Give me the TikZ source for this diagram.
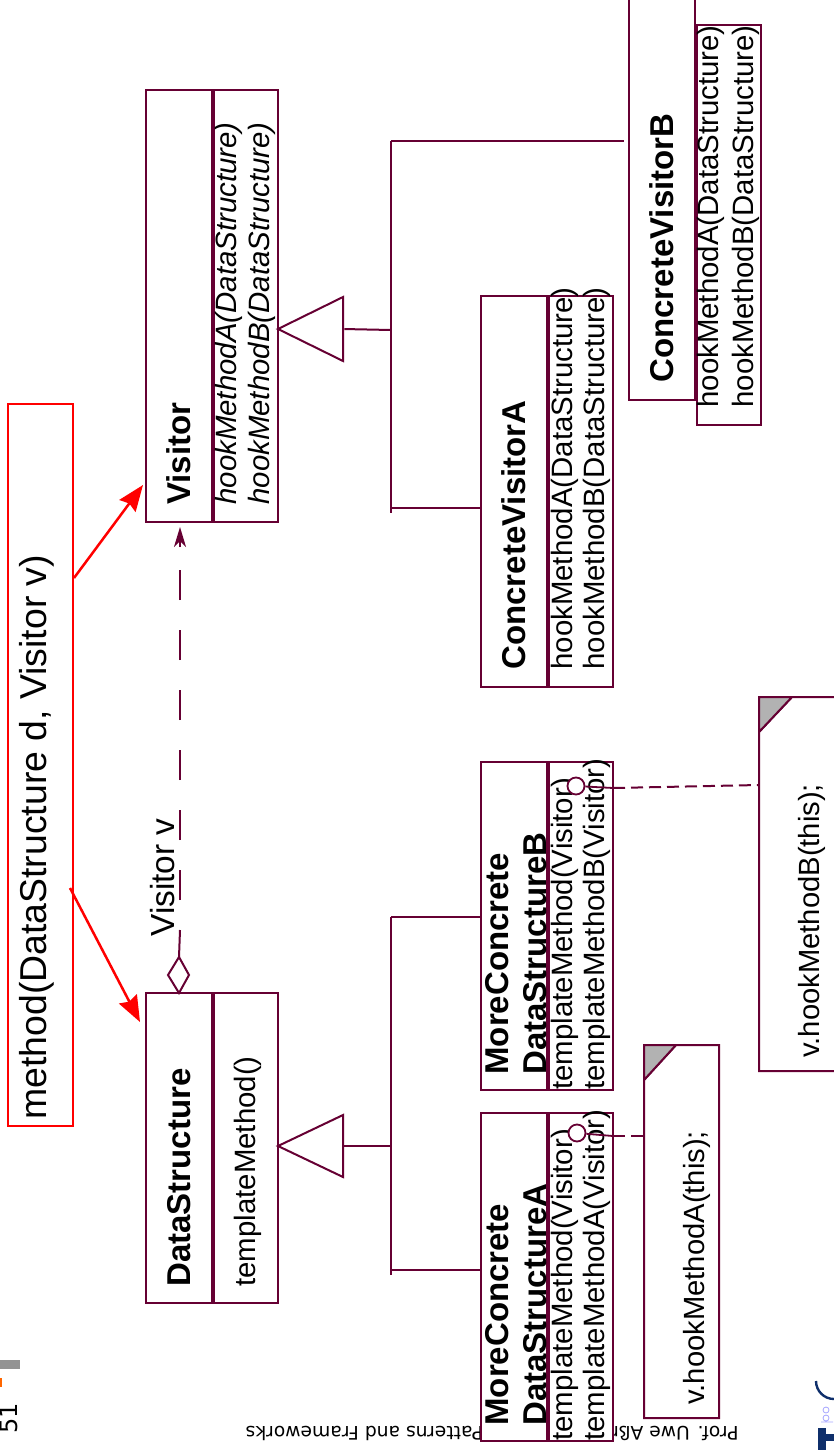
\documentclass[tikz,border=0pt]{standalone}
\usepackage{fontspec}
\setmainfont{Liberation Sans}
\newfontfamily\dejavu{DejaVu Sans}
\usetikzlibrary{arrows.meta}
\definecolor{uml}{HTML}{660033}
\definecolor{logoblue}{HTML}{0F2F6B}
\newcommand{\pxfont}[2]{\fontsize{#1}{#2}\selectfont}
\tikzset{
  x=0.5pt,y=-0.5pt,
  umlbox/.style={draw=uml,fill=white,line width=1pt,inner sep=0pt,rotate=90,anchor=center,minimum height=33pt},
  umlmeth/.style={umlbox,minimum height=32.25pt},
  clsname/.style={rotate=90,anchor=west,font=\bfseries\pxfont{16.5}{19},inner sep=0pt,align=left},
  method/.style={rotate=90,anchor=west,font=\pxfont{14.7}{16},inner sep=0pt},
  assoc/.style={draw=uml,line width=1pt},
  dep/.style={draw=uml,line width=1pt,dash pattern=on 6pt off 3pt},
  redline/.style={draw=red,line width=1.25pt},
  redtip/.style={-{Stealth[length=13pt,width=10pt,inset=1.5pt]}},
  lolli/.style={circle,draw=uml,line width=0.9pt,fill=white,minimum size=8.5pt,inner sep=0pt},
}
\begin{document}
\begin{tikzpicture}
\useasboundingbox (0,0) rectangle (834,1450);
\begin{scope}
\clip (0,0) rectangle (834,1450);
% page furniture
\fill[gray!85] (0,1360) rectangle (20,1369);
\fill[orange!80!red] (0,1378) rectangle (2,1387);
\node[rotate=90,anchor=south,font=\dejavu\pxfont{12}{12},inner sep=0pt] (pagenum) at (18,1418) {51};
\node[rotate=180,anchor=west,font=\dejavu\pxfont{9.35}{9.35},inner sep=0pt] (footer) at (739,1432) {Prof. Uwe Aßmann, Design Patterns and Frameworks};
% logo
\draw[blue!35,line width=0.4pt] (826,1410) circle (3) (826,1418) circle (3) (821,1422) -- (833,1422);
\draw[logoblue,line width=1.2pt] (834,1399) arc (90:180:18);
\fill[logoblue] (818,1428) rectangle (826,1450);
\fill[logoblue] (826,1434) rectangle (834,1441);

% class boxes
\node[umlbox,minimum width=216pt] (visitorH) at (179,306) {};
\node[umlmeth,minimum width=216pt] (visitorM) at (245.75,306) {};
\node[umlbox,minimum width=155pt] (dsH) at (179,1148) {};
\node[umlmeth,minimum width=155pt] (dsM) at (245.75,1148) {};
\node[umlbox,minimum width=195.5pt] (cvaH) at (514,491.5) {};
\node[umlmeth,minimum width=195.5pt] (cvaM) at (580.75,491.5) {};
\node[umlbox,minimum width=210pt] (cvbH) at (662,190) {};
\node[umlmeth,minimum width=200pt] (cvbM) at (728.75,225) {};
\node[umlbox,minimum width=164pt] (mcbH) at (514,926) {};
\node[umlmeth,minimum width=164pt] (mcbM) at (580.75,926) {};
\node[umlbox,minimum width=164pt] (mcaH) at (514,1277) {};
\node[umlmeth,minimum width=164pt] (mcaM) at (580.75,1277) {};

% class texts
\node[clsname] (tVisitor) at (179,505) {Visitor};
\node[method,font=\itshape\pxfont{14.7}{16}] (tVa) at (229,505) {hookMethodA(DataStructure)};
\node[method,font=\itshape\pxfont{14.7}{16}] (tVb) at (262,505) {hookMethodB(DataStructure)};
\node[clsname] (tDS) at (179,1287) {DataStructure};
\node[method] (tDSm) at (248,1287) {templateMethod()};
\node[clsname] (tCVA) at (514,670) {ConcreteVisitorA};
\node[method] (tCVAa) at (565,670) {hookMethodA(DataStructure)};
\node[method] (tCVAb) at (597,670) {hookMethodB(DataStructure)};
\node[clsname] (tCVB) at (662,383) {ConcreteVisitorB};
\node[method] (tCVBa) at (711,408) {hookMethodA(DataStructure)};
\node[method] (tCVBb) at (746,408) {hookMethodB(DataStructure)};
\node[clsname] (tMCB) at (516,1075) {MoreConcrete\\DataStructureB};
\node[method] (tMCBa) at (565,1090) {templateMethod(Visitor)};
\node[method] (tMCBb) at (597,1090) {templateMethodB(Visitor)};
\node[clsname] (tMCA) at (516,1426) {MoreConcrete\\DataStructureA};
\node[method] (tMCAa) at (565,1441) {templateMethod(Visitor)};
\node[method] (tMCAb) at (597,1441) {templateMethodA(Visitor)};

% inheritance triangles
\node[inner sep=0pt] (triV) at (343,329) {};
\draw[assoc,fill=white] (278,329) -- (343,297) -- (343,361) -- cycle;
\node[inner sep=0pt] (triD) at (343,1146) {};
\draw[assoc,fill=white] (278,1146) -- (343,1115) -- (343,1177) -- cycle;
\coordinate (busV) at (391,330);
\coordinate (busD) at (391,1146);
\draw[assoc] (triV) -- (busV);
\draw[assoc] (triD) -- (busD);
\coordinate (vTop) at (391,141);
\coordinate (vBot) at (391,513);
\coordinate (dTop) at (391,917);
\coordinate (dBot) at (391,1275);
\coordinate (toB) at (624,141);
\coordinate (vA) at (391,508);
\coordinate (toA) at (481,508);
\coordinate (toMB) at (481,917);
\coordinate (dA) at (391,1270);
\coordinate (toMA) at (481,1270);
\draw[assoc] (vTop) -- (vBot);
\draw[assoc] (dTop) -- (dBot);
\draw[assoc] (vTop) -- (toB);
\draw[assoc] (vA) -- (toA);
\draw[assoc] (dTop) -- (toMB);
\draw[assoc] (dA) -- (toMA);

% notes
\draw[assoc,fill=white] (676,1045) -- (719,1045) -- (719,1418) -- (644,1418) -- (644,1080) -- cycle;
\draw[assoc,fill=black!30] (644,1045) -- (676,1045) -- (644,1080) -- cycle;
\node[rotate=90,anchor=west,font=\pxfont{14.6}{14.6},inner sep=0pt] (noteA) at (697,1405) {v.hookMethodA(this);};
\draw[assoc,fill=white] (792,697) -- (840,697) -- (840,1071) -- (759,1071) -- (759,732) -- cycle;
\draw[assoc,fill=black!30] (759,697) -- (792,697) -- (759,732) -- cycle;
\node[rotate=90,anchor=west,font=\pxfont{14.6}{14.6},inner sep=0pt] (noteB) at (812,1058) {v.hookMethodB(this);};

% lollipops
\node[lolli] (lolA) at (577,1133) {};
\node[lolli] (lolB) at (576,786) {};
\coordinate (lolAe) at (613,1136);
\coordinate (lolBe) at (613,788);
\coordinate (noteAp) at (644,1136);
\coordinate (noteBp) at (759,785);
\draw[assoc,line width=0.9pt] (lolA) -- (lolAe);
\draw[assoc,line width=0.9pt] (lolB) -- (lolBe);
\draw[dep] (lolAe) -- (noteAp);
\draw[dep] (lolBe) -- (noteBp);

% aggregation
\draw[assoc,fill=white] (179,993) -- (189,975) -- (179,957) -- (168,975) -- cycle;
\coordinate (diaTop) at (179,957);
\coordinate (depStart) at (180,930);
\coordinate (depDash) at (180,900);
\coordinate (depDashEnd) at (180,570);
\coordinate (depTail) at (180,547);
\coordinate (depEnd) at (180,527);
\draw[assoc] (diaTop) -- (depStart);
\draw[draw=uml,line width=1pt,dash pattern=on 15pt off 15pt] (depDash) -- (depDashEnd);
\draw[draw=uml,line width=1pt,-{Stealth[length=10pt,width=6pt,inset=3pt,fill=uml]}] (depTail) -- (depEnd);
\node[rotate=90,anchor=west,font=\pxfont{16.7}{16.7},inner sep=0pt] (lblV) at (163,937) {Visitor v};

% red annotation
\node[draw=red,line width=1.25pt,fill=white,rotate=90,minimum width=361pt,minimum height=32.5pt,inner sep=0pt] (redbox) at (40.5,765) {};
\node[rotate=90,anchor=west,font=\pxfont{18.7}{18.7},inner sep=0pt] (redtext) at (37,1120) {method(DataStructure d, Visitor v)};
\coordinate (arrV) at (143,485);
\coordinate (arrD) at (140,1022);
\coordinate (redV) at (74,578);
\coordinate (redD) at (70,888);
\draw[redline,redtip] (redV) -- (arrV);
\draw[redline,redtip] (redD) -- (arrD);
\end{scope}
\end{tikzpicture}
\end{document}
